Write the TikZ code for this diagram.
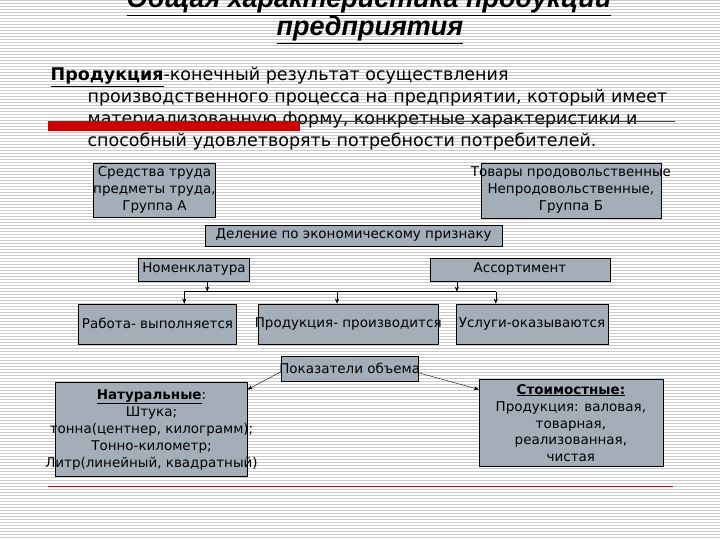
\documentclass[tikz,border=0pt]{standalone}
\usepackage{fontspec}
\setmainfont{DejaVu Sans}
\newfontfamily\titlefont{Liberation Sans}
\usetikzlibrary{arrows.meta,positioning}
\definecolor{boxgray}{RGB}{164,174,185}
\definecolor{barred}{RGB}{204,0,0}
\definecolor{rulered}{RGB}{150,30,30}
\tikzstyle{box} = [rectangle, draw, fill=boxgray, text centered, align=center, inner xsep=-20pt, inner ysep=0pt, below right, font=\fontsize{13.5}{17}\selectfont]
\tikzstyle{para} = [anchor=base west, inner sep=0pt, font=\fontsize{17.5}{22}\selectfont]
\tikzset{edge/.style = {
    >=Stealth,
    -{>[length=5pt, width=4pt]},
  }
}

\begin{document}
\begin{tikzpicture}[x=1pt, y=-1pt]
          % background stripes
          \fill[white] (0,0) rectangle (720,540);
          \foreach \y in {1,4,...,540} \draw[black!20, line width=1pt] (0,\y) -- (720,\y);
          \useasboundingbox (0,0) rectangle (720,540);

          % title
          \tikzstyle{title} = [anchor=base, inner sep=0pt, font=\titlefont\bfseries\itshape\fontsize{27}{32}\selectfont]
          \node[title] (title1) at (369,8) {\underline{Общая характеристика продукции}};
          \node[title] (title2) at (370,36) {\underline{предприятия}};

          % definition
          \node[para] (def1) at (50,81) {\underline{\textbf{Продукция}}-конечный результат осуществления};
          \node[para] (def2) at (87,103) {производственного процесса на предприятии, который имеет};
          \node[para] (def3) at (87,125) {материализованную форму, конкретные характеристики и};
          \node[para] (def4) at (87,147) {способный удовлетворять потребности потребителей.};
          \fill[barred] (48,122) rectangle (300,131);
          \draw[rulered, line width=0.8pt] (48,122) -- (675,122);

          % vertices
          \node[box, minimum width=122, minimum height=54] (groupA) at (93,163) {Средства труда\\предметы труда,\\Группа А};
          \node[box, minimum width=180, minimum height=55] (groupB) at (481,163) {Товары продовольственные\\Непродовольственные,\\Группа Б};
          \node[box, minimum width=297, minimum height=21] (division) at (205,225) {Деление по экономическому признаку};

          \node[box, minimum width=111, minimum height=23] (nomen) at (138,258) {Номенклатура};
          \node[box, minimum width=180, minimum height=23] (assort) at (430,258) {Ассортимент};

          \node[box, minimum width=158, minimum height=40] (work) at (78,304) {Работа- выполняется};
          \node[box, minimum width=180, minimum height=40] (product) at (258,304) {Продукция- производится};
          \node[box, minimum width=152, minimum height=40] (service) at (456,304) {Услуги-оказываются};

          \node[box, minimum width=137, minimum height=26] (volume) at (281,356) {Показатели объема};
          \node[box, minimum width=192, minimum height=94] (natural) at (55,383) {\underline{\textbf{Натуральные}}:\\Штука;\\тонна(центнер, килограмм);\\Тонно-километр;\\Литр(линейный, квадратный)};
          \node[box, minimum width=184, minimum height=87] (cost) at (479,380) {\underline{\textbf{Стоимостные:}}\\Продукция: валовая,\\товарная,\\реализованная,\\чистая};

          \draw[rulered, line width=0.8pt] (48,487) -- (673,487);

          % edges
          \coordinate (busL) at (184,292);
          \coordinate (busR) at (496,292);
          \coordinate (busN) at (207,292);
          \coordinate (busA) at (457,292);
          \coordinate (busM) at (337,292);
          \draw (busL) -- (busR);
          \draw[edge] (nomen.south -| busN) -- (busN);
          \draw[edge] (assort.south -| busA) -- (busA);
          \draw[edge] (busL) -- (busL |- work.north);
          \draw[edge] (busM) -- (busM |- product.north);
          \draw[edge] (busR) -- (busR |- service.north);
          \draw[edge] ([yshift=-3pt]volume.west) -- ([yshift=-7pt]natural.north east);
          \draw[edge] ([yshift=-4pt]volume.east) -- ([yshift=-10pt]cost.north west);
        \end{tikzpicture}
\end{document}
